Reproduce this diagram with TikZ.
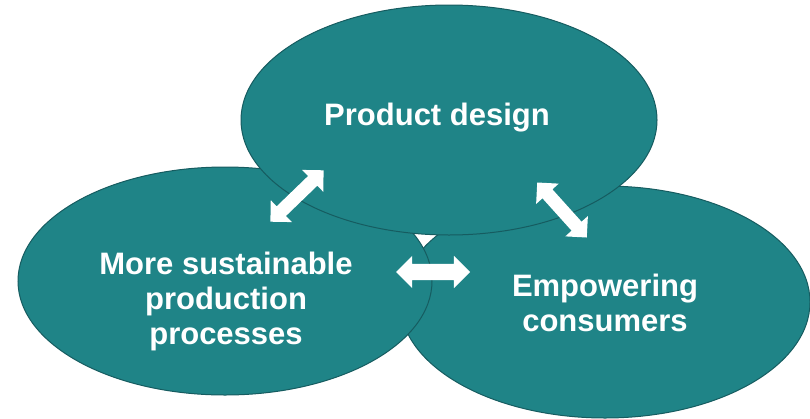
\documentclass[tikz,border=0pt]{standalone}
\usepackage{fontspec}
\setmainfont{Liberation Sans}
\usetikzlibrary{shapes.geometric,shapes.arrows}
\definecolor{circfill}{RGB}{31,132,135}
\definecolor{circline}{RGB}{22,92,96}

\begin{document}
\begin{tikzpicture}[x=1pt,y=-1pt,
	circ/.style={ellipse,draw=circline,fill=circfill,line width=1pt,inner sep=0pt},
	lbl/.style={text=white,font=\bfseries\fontsize{31}{35}\selectfont,align=center},
	dbl/.style={double arrow,fill=white,inner xsep=0pt,inner ysep=6.5pt,
		minimum height=74pt,double arrow head extend=8.5pt}]
	\useasboundingbox (0,0) rectangle (810,418);
	%
	\node[circ,minimum width=410pt,minimum height=232pt] (C) at (605,302) {};
	\node[circ,minimum width=414pt,minimum height=228pt] (P) at (225,281) {};
	\node[circ,minimum width=416pt,minimum height=230pt] (D) at (449,120) {};
	%
	\node[lbl] (Dt) at (437,118) {Product design};
	\node[lbl] (Pt) at (226,301) {More sustainable\\production\\processes};
	\node[lbl] (Ct) at (605,303) {Empowering\\consumers};
	%
	\node[dbl,rotate=44] (DP) at (297,196) {};
	\node[dbl,inner ysep=8pt,double arrow head extend=8pt] (PC) at (433,272) {};
	\node[dbl,rotate=-48] (DC) at (562,210) {};
\end{tikzpicture}
\end{document}
